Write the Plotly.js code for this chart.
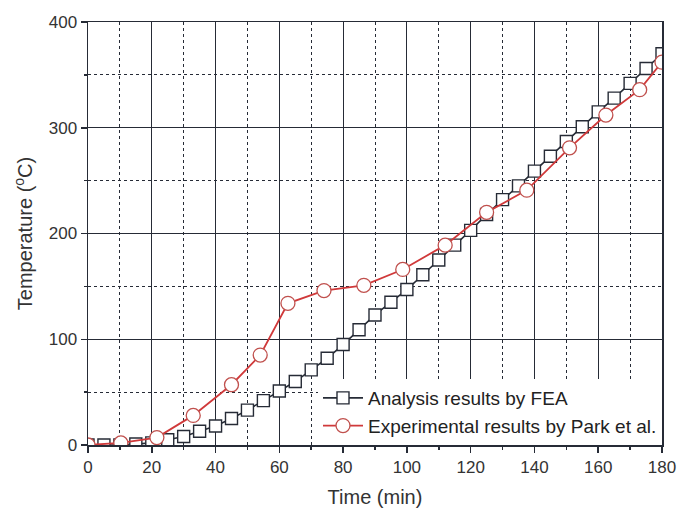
<!DOCTYPE html>
<html>
<head>
<meta charset="utf-8">
<script src="https://cdn.plot.ly/plotly-3.0.1.min.js"></script>
<style>html,body{margin:0;padding:0;background:#fff;}#chart{width:692px;height:509px;}</style>
</head>
<body>
<div id="chart"></div>
<script>
// FEA analysis results (time in min, temperature in °C)
const feaTime = [0, 5, 10, 15, 20, 25, 30, 35, 40, 45, 50, 55, 60, 65, 70, 75, 80, 85, 90, 95, 100, 105, 110, 115, 120, 125, 130, 135, 140, 145, 150, 155, 160, 165, 170, 175, 180];
const feaTemp = [0, 0, 0, 1, 2, 5, 8, 13, 18, 25, 33, 42, 51, 60, 71, 82, 95, 109, 123, 135, 147, 161, 175, 189, 203, 218, 232, 245, 259, 273, 287, 301, 315, 328, 342, 356, 370];
// Experimental results by Park et al.
const expTime = [0, 10.3, 21.6, 33, 45, 54, 62.7, 74, 86.5, 98.7, 112, 125, 137.6, 151, 162.4, 173, 180];
const expTemp = [0, 2, 7, 28, 57, 85, 134, 146, 151, 166, 189, 220, 241, 281, 312, 336, 362];
const seriesNames = ["Analysis results by FEA", "Experimental results by Park et al."];

const dark = "#262b36";
const red = "#d0393a";
const fontFam = "Liberation Sans, Arial, sans-serif";

const traces = [
  {
    x: feaTime, y: feaTemp, name: seriesNames[0], mode: "lines+markers",
    line: {color: dark, width: 1.6},
    marker: {symbol: "square", size: 12, color: "#ffffff", line: {color: dark, width: 1.4}}
  },
  {
    x: expTime, y: expTemp, name: seriesNames[1], mode: "lines+markers",
    line: {color: red, width: 1.8},
    marker: {symbol: "circle", size: 14, color: "#ffffff", line: {color: "#c0504d", width: 1.3}}
  }
];

const axisCommon = {
  showline: true, linecolor: dark, linewidth: 1.5, mirror: true,
  ticks: "outside", ticklen: 6, tickwidth: 1.5, tickcolor: dark,
  showgrid: true, gridcolor: dark, gridwidth: 1,
  zeroline: false,
  tickfont: {family: fontFam, size: 17, color: "#333"}
};

const layout = {
  width: 692, height: 509,
  margin: {l: 88, r: 30, t: 22, b: 64},
  paper_bgcolor: "#fff", plot_bgcolor: "#fff",
  showlegend: true,
  legend: {
    x: 1, xanchor: "right", y: 0, yanchor: "bottom",
    bgcolor: "#fff", borderwidth: 0,
    font: {family: fontFam, size: 19, color: "#222"},
    itemwidth: 40, tracegroupgap: 0
  },
  xaxis: Object.assign({}, axisCommon, {
    range: [0, 180], dtick: 20, tick0: 0,
    minor: {dtick: 10, showgrid: true, griddash: "dot", gridcolor: dark, gridwidth: 1, ticks: "outside", ticklen: 3, tickcolor: dark},
    title: {text: "Time (min)", font: {family: fontFam, size: 20, color: "#333"}, standoff: 14}
  }),
  yaxis: Object.assign({}, axisCommon, {
    range: [0, 400], dtick: 100, tick0: 0,
    minor: {dtick: 50, showgrid: true, griddash: "dot", gridcolor: dark, gridwidth: 1, ticks: "outside", ticklen: 3, tickcolor: dark},
    title: {text: "Temperature (<sup>o</sup>C)", font: {family: fontFam, size: 20, color: "#333"}, standoff: 10}
  })
};

Plotly.newPlot("chart", traces, layout, {displayModeBar: false, staticPlot: true});
</script>
</body>
</html>
